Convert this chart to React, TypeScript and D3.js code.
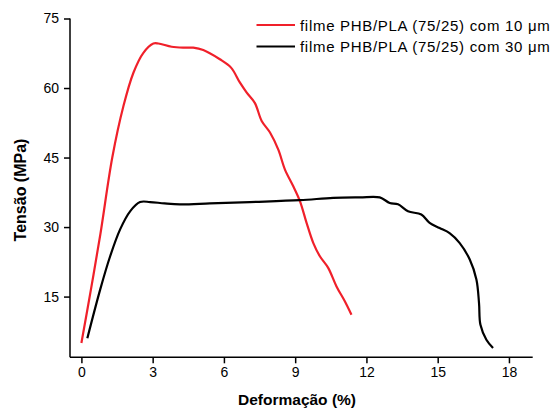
import React, { useEffect, useRef } from 'react'
import * as d3 from 'd3'

// curva do filme de 10 um: [deformação %, tensão MPa]
const film10 = [
  [0.0, 5.0], [0.4, 16.5], [0.8, 28.5], [1.3, 45.0], [1.77, 56.1], [2.19, 63.3],
  [2.61, 67.6], [3.03, 69.6], [3.24, 69.6], [3.8, 68.9], [4.3, 68.7], [4.71, 68.7],
  [5.13, 68.2], [5.83, 66.2], [6.3, 64.4], [6.67, 61.2], [6.96, 59.0], [7.3, 56.8],
  [7.59, 52.9], [7.94, 50.4], [8.29, 46.7], [8.57, 42.4], [8.92, 38.8], [9.2, 35.6],
  [9.48, 30.9], [9.76, 26.6], [10.04, 23.7], [10.39, 21.2], [10.74, 17.2],
  [11.09, 14.0], [11.37, 11.1],
]

// curva do filme de 30 um
const film30 = [
  [0.25, 6.0], [0.79, 16.5], [1.21, 23.7], [1.63, 29.5], [2.05, 33.4], [2.47, 35.4],
  [2.89, 35.4], [3.5, 35.1], [4.15, 34.9], [5.41, 35.1], [7.09, 35.4], [9.2, 35.8],
  [10.6, 36.3], [11.72, 36.4], [12.56, 36.4], [12.98, 35.2], [13.33, 34.9],
  [13.75, 33.4], [14.31, 32.7], [14.66, 30.9], [15.08, 29.8], [15.5, 28.7],
  [15.92, 26.6], [16.35, 23.0], [16.63, 18.7], [16.74, 13.6], [16.8, 8.9],
  [17.05, 5.7], [17.33, 3.9],
]

const xTicks = [0, 3, 6, 9, 12, 15, 18]
const yTicks = [15, 30, 45, 60, 75]
const legendLabels = ['filme PHB/PLA (75/25) com 10 \u03bcm', 'filme PHB/PLA (75/25) com 30 \u03bcm']
const colors = ['#f0202a', '#000000']

const W = 555
const H = 409

export default function App() {
  const ref = useRef<SVGSVGElement>(null)

  useEffect(() => {
    document.body.style.margin = '0'
    const svg = d3.select(ref.current)
    svg.selectAll('*').remove()

    const x = d3.scaleLinear().domain([-0.48, 19]).range([70, 532.7])
    const y = d3.scaleLinear().domain([1.9, 75]).range([357.3, 18.5])
    const font = 'Arial, "Liberation Sans", sans-serif'

    // eixo x
    const gx = svg.append('g').attr('transform', 'translate(0,357.3)')
    gx.call(
      d3.axisBottom(x).tickValues(d3.range(0, 19.1, 1.5)).tickSize(4).tickFormat(() => '')
    )
    gx.call(
      d3.axisBottom(x).tickValues(xTicks).tickSize(6).tickPadding(4).tickFormat(d3.format('d'))
    )
    gx.selectAll('.domain').attr('stroke-width', 1.5).attr('d', 'M70,0H532.7')
    gx.selectAll('line').attr('stroke-width', 1.5)
    gx.selectAll('text').attr('font-size', 14).attr('font-family', font).attr('fill', '#000')

    // eixo y
    const gy = svg.append('g').attr('transform', 'translate(70,0)')
    gy.call(
      d3.axisLeft(y).tickValues(d3.range(7.5, 75.1, 7.5)).tickSize(4).tickFormat(() => '')
    )
    gy.call(
      d3.axisLeft(y).tickValues(yTicks).tickSize(6).tickPadding(5).tickFormat(d3.format('d'))
    )
    gy.selectAll('.domain').attr('stroke-width', 1.5).attr('d', 'M0,357.3V18.5')
    gy.selectAll('line').attr('stroke-width', 1.5)
    gy.selectAll('text').attr('font-size', 14).attr('font-family', font).attr('fill', '#000')

    svg.append('text')
      .attr('x', 297).attr('y', 405)
      .attr('text-anchor', 'middle')
      .attr('font-family', font).attr('font-weight', 'bold').attr('font-size', 15.5)
      .text('Deformação (%)')

    svg.append('text')
      .attr('transform', 'translate(26,190) rotate(-90)')
      .attr('text-anchor', 'middle')
      .attr('font-family', font).attr('font-weight', 'bold').attr('font-size', 16)
      .text('Tensão (MPa)')

    const line = d3.line<number[]>().x((d) => x(d[0])).y((d) => y(d[1])).curve(d3.curveCatmullRom)

    ;[film10, film30].forEach((data, i) => {
      svg.append('path')
        .datum(data)
        .attr('fill', 'none')
        .attr('stroke', colors[i])
        .attr('stroke-width', 2.2)
        .attr('stroke-linejoin', 'round')
        .attr('d', line)
    })

    const lg = svg.append('g')
    legendLabels.forEach((label, i) => {
      const ly = 25 + i * 21.5
      lg.append('line')
        .attr('x1', 256.5).attr('x2', 295).attr('y1', ly).attr('y2', ly)
        .attr('stroke', colors[i]).attr('stroke-width', 2.2)
      lg.append('text')
        .attr('x', 300).attr('y', ly + 5.5)
        .attr('font-family', font).attr('font-size', 15)
        .attr('letter-spacing', 0.7)
        .text(label)
    })
  }, [])

  return <svg ref={ref} width={W} height={H} style={{ display: 'block' }} />
}
